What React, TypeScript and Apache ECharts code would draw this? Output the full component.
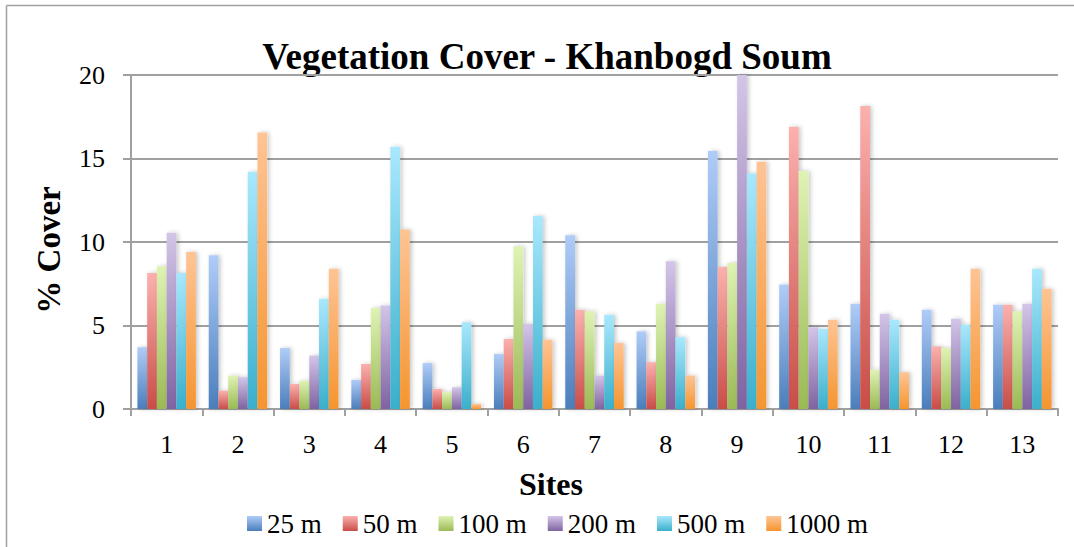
import React, { useEffect, useRef } from "react";
import * as echarts from "echarts";

const sites = ["1", "2", "3", "4", "5", "6", "7", "8", "9", "10", "11", "12", "13"];
const seriesNames = ["25 m", "50 m", "100 m", "200 m", "500 m", "1000 m"];
const yTicks = { min: 0, max: 20, interval: 5 };

const cover25 = [3.7, 9.2, 3.65, 1.75, 2.75, 3.3, 10.4, 4.65, 15.45, 7.45, 6.3, 5.95, 6.25];
const cover50 = [8.15, 1.1, 1.5, 2.7, 1.2, 4.2, 5.95, 2.8, 8.5, 16.9, 18.15, 3.75, 6.25];
const cover100 = [8.55, 2.0, 1.7, 6.05, 1.0, 9.75, 5.85, 6.3, 8.75, 14.25, 2.35, 3.65, 5.85];
const cover200 = [10.55, 1.9, 3.2, 6.2, 1.3, 5.1, 2.0, 8.85, 20.0, 4.9, 5.7, 5.4, 6.3];
const cover500 = [8.15, 14.2, 6.6, 15.7, 5.2, 11.55, 5.65, 4.3, 14.1, 4.8, 5.35, 5.05, 8.4];
const cover1000 = [9.4, 16.55, 8.4, 10.75, 0.3, 4.15, 3.95, 2.0, 14.8, 5.35, 2.2, 8.4, 7.2];

const allSeries = [cover25, cover50, cover100, cover200, cover500, cover1000];

const gradientStops = [
  ["#b0ccf8", "#4a7ebb"],
  ["#fbb1ae", "#c94d48"],
  ["#dff3b4", "#9aba55"],
  ["#d3c5e8", "#7f63a1"],
  ["#a9e8fd", "#3aafcb"],
  ["#fec495", "#f5952f"],
];

const SERIF = "'Liberation Serif', 'Times New Roman', serif";
const GRAY = "#a0a0a0";

export default function App() {
  const ref = useRef<HTMLDivElement>(null);

  useEffect(() => {
    if (!ref.current) return;
    const chart = echarts.init(ref.current, undefined, { renderer: "svg" });

    const series = allSeries.map((data, i) => ({
      name: seriesNames[i],
      type: "bar",
      data,
      barGap: "0%",
      barCategoryGap: "18%",
      itemStyle: {
        color: new echarts.graphic.LinearGradient(0, 0, 0, 1, [
          { offset: 0, color: gradientStops[i][0] },
          { offset: 1, color: gradientStops[i][1] },
        ]),
        shadowColor: "rgba(0,0,0,0.22)",
        shadowBlur: 4,
        shadowOffsetX: 2,
        shadowOffsetY: 0,
      },
      emphasis: { disabled: true },
    }));

    chart.setOption({
      animation: false,
      backgroundColor: "#ffffff",
      grid: { left: 131, right: 16, top: 75, bottom: 138, containLabel: false },
      legend: {
        data: seriesNames,
        left: 242,
        top: 505,
        itemWidth: 15,
        itemHeight: 15,
        itemGap: 21,
        icon: "rect",
        textStyle: { fontFamily: SERIF, fontSize: 27, color: "#000" },
      },
      xAxis: {
        type: "category",
        data: sites,
        axisLine: { show: true, lineStyle: { color: GRAY, width: 2 } },
        axisTick: { show: true, length: 7, lineStyle: { color: GRAY, width: 2 } },
        axisLabel: { fontFamily: SERIF, fontSize: 26, color: "#000", margin: 22 },
        splitLine: { show: false },
      },
      yAxis: {
        type: "value",
        min: yTicks.min,
        max: yTicks.max,
        interval: yTicks.interval,
        axisLine: { show: true, lineStyle: { color: GRAY, width: 2 } },
        axisTick: { show: true, length: 8, lineStyle: { color: GRAY, width: 2 } },
        axisLabel: { fontFamily: SERIF, fontSize: 26, color: "#000", margin: 26 },
        splitLine: { show: true, lineStyle: { color: GRAY, width: 2 } },
      },
      series,
      graphic: [
        {
          type: "line",
          shape: { x1: 6.5, y1: 5.5, x2: 1074, y2: 5.5 },
          style: { stroke: GRAY, lineWidth: 1.5 },
          silent: true,
        },
        {
          type: "line",
          shape: { x1: 6.5, y1: 5.5, x2: 6.5, y2: 547 },
          style: { stroke: GRAY, lineWidth: 1.5 },
          silent: true,
        },
        {
          type: "text",
          x: 547,
          y: 56,
          style: {
            text: "Vegetation Cover - Khanbogd Soum",
            fontFamily: SERIF,
            fontWeight: "bold",
            fontSize: 37,
            fill: "#000",
            textAlign: "center",
            textVerticalAlign: "middle",
          },
        },
        {
          type: "text",
          x: 551,
          y: 484,
          style: {
            text: "Sites",
            fontFamily: SERIF,
            fontWeight: "bold",
            fontSize: 32,
            fill: "#000",
            textAlign: "center",
            textVerticalAlign: "middle",
          },
        },
        {
          type: "text",
          x: 49,
          y: 250,
          rotation: Math.PI / 2,
          style: {
            text: "% Cover",
            fontFamily: SERIF,
            fontWeight: "bold",
            fontSize: 33,
            fill: "#000",
            textAlign: "center",
            textVerticalAlign: "middle",
          },
        },
      ],
    });

    return () => chart.dispose();
  }, []);

  return (
    <div
      ref={ref}
      style={{ position: "absolute", left: 0, top: 0, width: 1074, height: 547 }}
    />
  );
}
